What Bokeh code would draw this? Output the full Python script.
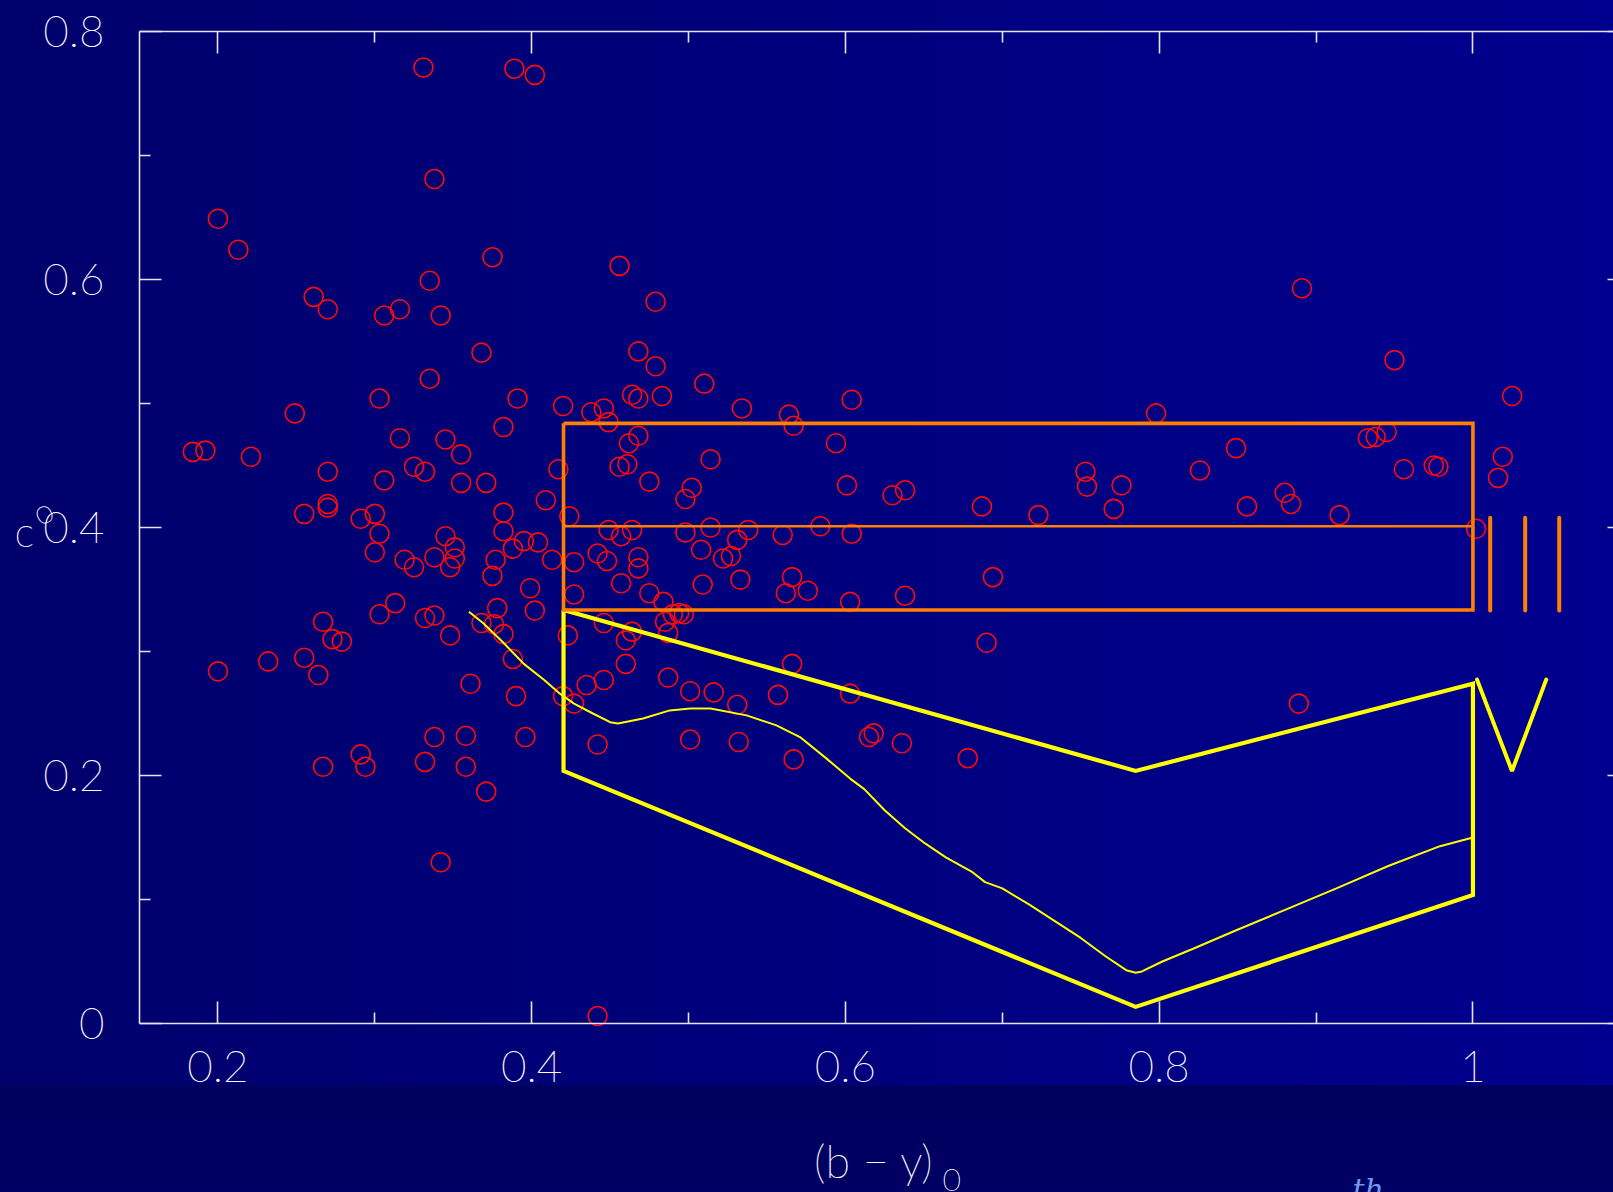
from bokeh.plotting import figure
from bokeh.models import (LinearAxis, FixedTicker, CustomJSTickFormatter, Label,
                          ColumnDataSource, CustomLabelingPolicy)
from bokeh.embed import file_html
from bokeh.resources import INLINE

# ---- data: stars, (b-y)_0 vs c_0 ----
star_x = [0.338, 0.200, 0.213, 0.375, 0.335, 0.261, 0.270, 0.306, 0.316, 0.342,
          0.368, 0.335, 0.303, 0.391, 0.420, 0.249, 0.382, 0.184, 0.192, 0.221,
          0.316, 0.345, 0.355, 0.270, 0.325, 0.332, 0.306, 0.355, 0.371, 0.417,
          0.409, 0.270, 0.270, 0.255, 0.291, 0.300, 0.303, 0.300, 0.382, 0.424,
          0.382, 0.388, 0.395, 0.404, 0.345, 0.351, 0.351, 0.338, 0.348, 0.319,
          0.325, 0.377, 0.375, 0.413, 0.427, 0.427, 0.399, 0.402, 0.378, 0.313,
          0.303, 0.332, 0.338, 0.348, 0.368, 0.376, 0.382, 0.423, 0.267, 0.273,
          0.279, 0.388, 0.232, 0.255, 0.200, 0.264, 0.361, 0.390, 0.420, 0.427,
          0.338, 0.358, 0.396, 0.291, 0.294, 0.267, 0.332, 0.358, 0.371, 0.342,
          0.468, 0.479, 0.510, 0.464, 0.468, 0.483, 0.438, 0.446, 0.449, 0.534,
          0.564, 0.567, 0.604, 0.594, 0.462, 0.468, 0.514, 0.456, 0.461, 0.475,
          0.502, 0.498, 0.601, 0.630, 0.638, 0.449, 0.457, 0.464, 0.498, 0.514,
          0.538, 0.531, 0.560, 0.584, 0.604, 0.442, 0.448, 0.468, 0.468, 0.508,
          0.522, 0.527, 0.457, 0.475, 0.509, 0.533, 0.566, 0.562, 0.576, 0.603,
          0.638, 0.484, 0.490, 0.494, 0.497, 0.485, 0.487, 0.446, 0.464, 0.460,
          0.460, 0.566, 0.446, 0.435, 0.487, 0.501, 0.516, 0.531, 0.557, 0.603,
          0.442, 0.501, 0.532, 0.567, 0.615, 0.618, 0.636, 0.678, 0.331, 0.389,
          0.402, 0.456, 0.479, 0.891, 1.025, 0.950, 0.798, 0.826, 0.849, 0.856,
          0.880, 0.884, 0.889, 0.915, 0.933, 0.938, 0.945, 0.956, 0.975, 0.978,
          1.002, 1.016, 1.019, 0.723, 0.753, 0.754, 0.771, 0.776, 0.687, 0.690,
          0.694, 0.442]
star_y = [0.681, 0.649, 0.624, 0.618, 0.599, 0.586, 0.576, 0.571, 0.576, 0.571,
          0.541, 0.520, 0.504, 0.504, 0.498, 0.492, 0.481, 0.461, 0.462, 0.457,
          0.472, 0.471, 0.459, 0.445, 0.449, 0.445, 0.438, 0.436, 0.436, 0.447,
          0.422, 0.419, 0.416, 0.411, 0.407, 0.411, 0.395, 0.380, 0.412, 0.409,
          0.397, 0.383, 0.389, 0.388, 0.393, 0.384, 0.375, 0.376, 0.368, 0.374,
          0.368, 0.374, 0.361, 0.374, 0.372, 0.346, 0.351, 0.333, 0.335, 0.339,
          0.330, 0.327, 0.329, 0.313, 0.323, 0.322, 0.314, 0.313, 0.324, 0.310,
          0.308, 0.294, 0.292, 0.295, 0.284, 0.281, 0.274, 0.264, 0.264, 0.258,
          0.231, 0.232, 0.231, 0.217, 0.207, 0.207, 0.211, 0.207, 0.187, 0.130,
          0.542, 0.530, 0.516, 0.507, 0.504, 0.506, 0.493, 0.496, 0.485, 0.496,
          0.491, 0.482, 0.503, 0.468, 0.468, 0.474, 0.455, 0.449, 0.451, 0.437,
          0.432, 0.423, 0.434, 0.426, 0.430, 0.398, 0.393, 0.398, 0.396, 0.400,
          0.398, 0.390, 0.394, 0.401, 0.395, 0.379, 0.373, 0.376, 0.367, 0.382,
          0.375, 0.377, 0.355, 0.347, 0.354, 0.358, 0.360, 0.347, 0.349, 0.340,
          0.345, 0.340, 0.330, 0.331, 0.330, 0.324, 0.315, 0.323, 0.316, 0.309,
          0.290, 0.290, 0.277, 0.273, 0.279, 0.268, 0.267, 0.257, 0.265, 0.266,
          0.225, 0.229, 0.227, 0.213, 0.231, 0.234, 0.226, 0.214, 0.771, 0.770,
          0.765, 0.611, 0.582, 0.593, 0.506, 0.535, 0.492, 0.446, 0.464, 0.417,
          0.428, 0.419, 0.258, 0.410, 0.472, 0.473, 0.477, 0.447, 0.450, 0.449,
          0.399, 0.440, 0.457, 0.410, 0.445, 0.433, 0.415, 0.434, 0.417, 0.307,
          0.360, 0.006]

# region III box (orange)
box3_x = [0.4203, 1.0, 1.0, 0.4203, 0.4203]
box3_y = [0.484, 0.484, 0.3335, 0.3335, 0.484]
mid3_x = [0.4203, 1.0]
mid3_y = [0.401, 0.401]
# region V polygon (yellow)
poly5_x = [0.4203, 0.785, 1.0, 1.0, 0.785, 0.4203, 0.4203]
poly5_y = [0.3335, 0.2037, 0.274, 0.1036, 0.0134, 0.2037, 0.3335]
# thin yellow curve
curve_x = [0.360, 0.369, 0.382, 0.395, 0.408, 0.418, 0.427, 0.439, 0.450, 0.455,
           0.471, 0.488, 0.501, 0.514, 0.537, 0.556, 0.571, 0.588, 0.603, 0.612,
           0.625, 0.638, 0.651, 0.664, 0.681, 0.689, 0.700, 0.717, 0.733, 0.750,
           0.766, 0.779, 0.785, 0.789, 0.802, 0.822, 0.848, 0.881, 0.913, 0.946,
           0.979, 1.000]
curve_y = [0.332, 0.323, 0.307, 0.290, 0.277, 0.266, 0.258, 0.250, 0.243, 0.242,
           0.246, 0.2525, 0.254, 0.254, 0.2485, 0.2404, 0.231, 0.2136, 0.1975, 0.189,
           0.172, 0.1575, 0.145, 0.134, 0.122, 0.114, 0.109, 0.096, 0.083, 0.069,
           0.054, 0.043, 0.041, 0.042, 0.050, 0.0605, 0.0746, 0.092, 0.109, 0.127,
           0.143, 0.150]
# roman numeral strokes "III" and "V"
mark3_x = [1.011, 1.0333, 1.055]
mark3_y0 = [0.3331, 0.3331, 0.3331]
mark3_y1 = [0.4078, 0.4078, 0.4078]
mark5_x = [1.0026, 1.0249, 1.0467]
mark5_y = [0.2773, 0.2036, 0.2773]

x_ticks = [0.2, 0.4, 0.6, 0.8, 1.0]
x_tick_labels = ["0.2", "0.4", "0.6", "0.8", "1"]
x_minor = [0.3, 0.5, 0.7, 0.9]
y_ticks = [0.0, 0.2, 0.4, 0.6, 0.8]
y_tick_labels = ["0", "0.2", "0.4", "0.6", "0.8"]
y_minor = [0.1, 0.3, 0.5, 0.7]
x_axis_span = (0.15, 1.1)
y_axis_span = (0.0, 0.8)

FONT = "'Lato Thin', 'Lato Hairline', 'Lato Light', Lato"
AXC = "#E4E4F2"
W, H = 1613, 1192
# pixel placement of the axes box inside the canvas
PX_LEFT, PX_TOP, PX_BOTTOM = 139, 31, 1023
ky = (PX_BOTTOM - PX_TOP) / (y_axis_span[1] - y_axis_span[0])
kx = 1568.75
x_lo = x_axis_span[0] - PX_LEFT / kx
x_hi = x_axis_span[0] + (W - PX_LEFT) / kx
y_hi = y_axis_span[1] + PX_TOP / ky
y_lo = y_axis_span[0] - (H - PX_BOTTOM) / ky

p = figure(width=W, height=H, x_range=(x_lo, x_hi), y_range=(y_lo, y_hi),
           output_backend="svg", toolbar_location=None,
           x_axis_location=None, y_axis_location=None, min_border=0)
p.background_fill_alpha = 0
p.border_fill_alpha = 0
p.outline_line_color = None
p.grid.visible = False
p.styles = {"background": "linear-gradient(to bottom, rgba(0,0,0,0) 0px, rgba(0,0,0,0) 1085px, #00005E 1085px, #000064 100%), linear-gradient(to right, #00006C, #00008E)"}


def fmt(ticks, labels):
    return CustomJSTickFormatter(args=dict(tv=ticks, tl=labels),
                                 code="const i = tv.findIndex(t => Math.abs(t - tick) < 1e-9); return i >= 0 ? tl[i] : '';")


def make_axis(loc, bounds, ticks, minor, labels, show_labels, tin=22, minin=11):
    ax = LinearAxis(fixed_location=loc, bounds=bounds)
    ax.ticker = FixedTicker(ticks=ticks, minor_ticks=minor)
    ax.formatter = fmt(ticks, labels)
    ax.axis_line_color = AXC
    ax.axis_line_width = 1.6
    ax.major_tick_line_color = AXC
    ax.minor_tick_line_color = AXC
    ax.major_tick_line_width = 1.6
    ax.minor_tick_line_width = 1.6
    ax.major_tick_in = tin
    ax.major_tick_out = 0
    ax.minor_tick_in = minin
    ax.minor_tick_out = 0
    if show_labels:
        ax.major_label_text_font = FONT
        ax.major_label_text_font_size = "44px"
        ax.major_label_text_color = "#FFFFFF"
    else:
        ax.major_label_text_font_size = "1px"
        ax.major_label_standoff = 0
        ax.major_label_policy = CustomLabelingPolicy(code="return new Set()")
    return ax


bottom_ax = make_axis(y_axis_span[0], x_axis_span, x_ticks, x_minor, x_tick_labels, True)
bottom_ax.major_label_standoff = 27
p.add_layout(bottom_ax, "below")
left_ax = make_axis(x_axis_span[0], y_axis_span, y_ticks, y_minor, y_tick_labels, True)
left_ax.major_label_standoff = 35
p.add_layout(left_ax, "left")
top_ax = make_axis(y_axis_span[1], x_axis_span, x_ticks, x_minor, x_tick_labels, False)
p.add_layout(top_ax, "above")
right_ax = make_axis(x_axis_span[1], y_axis_span, y_ticks, y_minor, y_tick_labels, False)
p.add_layout(right_ax, "right")

# stars
src = ColumnDataSource(dict(x=star_x, y=star_y))
p.scatter("x", "y", source=src, marker="circle", size=19, fill_color=None,
          line_color="#FF0A0A", line_width=1.6)

# region V
p.line(poly5_x, poly5_y, line_color="#FFFF00", line_width=4.2, line_join="miter")
p.line(curve_x, curve_y, line_color="#FFFF00", line_width=2)
# region III
p.line(box3_x, box3_y, line_color="#FF8000", line_width=3.6, line_join="miter")
p.line(mid3_x, mid3_y, line_color="#FF8000", line_width=2.4)
p.segment(x0=mark3_x, y0=mark3_y0, x1=mark3_x, y1=mark3_y1,
          line_color="#FF8000", line_width=4, line_cap="round")
p.line(mark5_x, mark5_y, line_color="#FFFF00", line_width=4, line_cap="round")

# axis titles and the partly visible footer text
p.add_layout(Label(x=0.5800, y=-0.1105, text="(b \u2212 y)", text_font=FONT,
                   text_font_size="45px", text_color="#FFFFFF", text_baseline="alphabetic"))
p.add_layout(Label(x=0.6619, y=-0.1266, text="0", text_font=FONT,
                   text_font_size="32px", text_color="#FFFFFF", text_baseline="alphabetic"))
p.add_layout(Label(x=0.0703, y=0.3968, text="c", text_font=FONT,
                   text_font_size="42px", text_color="#FFFFFF", text_baseline="alphabetic"))
p.add_layout(Label(x=0.0880, y=0.4140, text="o", text_font=FONT, angle=0.45,
                   text_font_size="34px", text_color="#FFFFFF", text_align="center",
                   text_baseline="middle"))
p.add_layout(Label(x=0.9232, y=-0.1339, text="th", text_font="DejaVu Serif",
                   text_font_style="italic", text_font_size="30px", text_color="#6E9BF0",
                   text_baseline="alphabetic"))

html = file_html(p, INLINE)
html = html.replace("<head>", "<head><style>html,body{margin:0;overflow:hidden;background:linear-gradient(to right,#00006C,#00008E);}</style>", 1)
open("out.html", "w").write(html)
